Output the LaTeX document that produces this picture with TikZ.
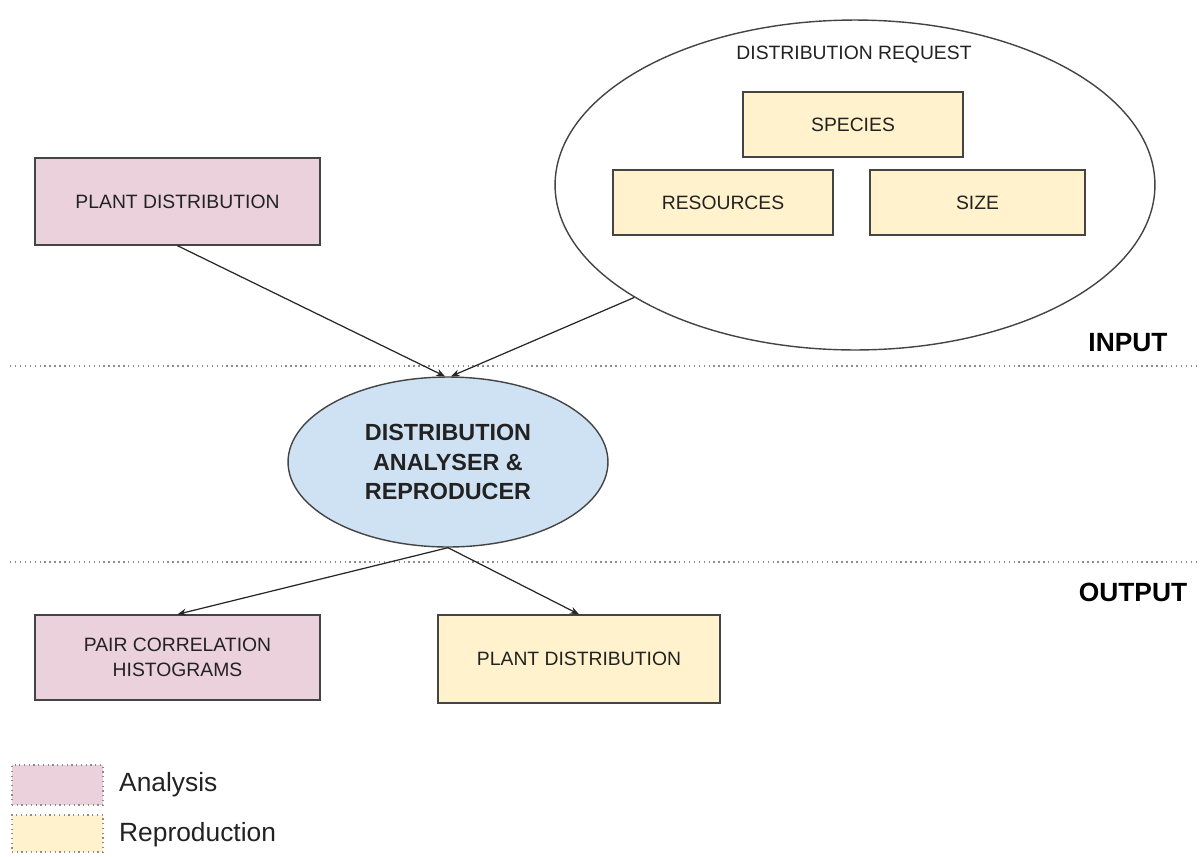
\documentclass[tikz,border=0pt]{standalone}
\usepackage{fontspec}
\setmainfont{Liberation Sans}
\usetikzlibrary{shapes.geometric,arrows.meta}

\definecolor{anapink}{HTML}{EAD1DC}
\definecolor{repyellow}{HTML}{FFF2CC}
\definecolor{procblue}{HTML}{CFE2F3}
\definecolor{edgegray}{HTML}{444444}
\definecolor{textgray}{HTML}{222222}

\tikzset{
  box/.style={draw=edgegray, line width=0.8pt, rectangle, align=center,
    text=textgray, font=\fontsize{11}{14}\selectfont, inner sep=2pt},
  anabox/.style={box, fill=anapink},
  repbox/.style={box, fill=repyellow},
  flow/.style={-{Stealth[length=5pt,width=4pt]}, line width=0.7pt, draw=black!85},
  divider/.style={draw=black!45, line width=0.8pt, dotted},
  stagelabel/.style={font=\bfseries\fontsize{15}{18}\selectfont},
  keybox/.style={draw=black!45, line width=0.7pt, dotted, rectangle},
  keytext/.style={anchor=west, font=\fontsize{15}{18}\selectfont, text=textgray}
}

\begin{document}
\begin{tikzpicture}[x=0.02cm, y=-0.02cm]
\useasboundingbox (0,0) rectangle (1200,856);

% stage dividers
\draw[divider] (10,366) -- (1200,366);
\draw[divider] (10,562) -- (1200,562);
\node[stagelabel] (inlab) at (1128,343) {INPUT};
\node[stagelabel] (outlab) at (1133,592) {OUTPUT};

% inputs
\node[anabox, minimum width=5.7cm, minimum height=1.74cm] (plantin) at (177.5,201.5) {PLANT DISTRIBUTION};

\node[draw=edgegray, line width=0.8pt, ellipse, fill=white,
      minimum width=12cm, minimum height=6.6cm] (request) at (855,185) {};
\node[font=\fontsize{11}{14}\selectfont, text=textgray] (reqlab) at (854,55) {DISTRIBUTION REQUEST};
\node[repbox, minimum width=4.4cm, minimum height=1.3cm] (species) at (853,124.5) {SPECIES};
\node[repbox, minimum width=4.4cm, minimum height=1.3cm] (resources) at (723,202.5) {RESOURCES};
\node[repbox, minimum width=4.3cm, minimum height=1.3cm] (size) at (977.5,202.5) {SIZE};

% processor
\node[draw=edgegray, line width=0.8pt, ellipse, fill=procblue, align=center,
      minimum width=6.4cm, minimum height=3.4cm, inner sep=0pt,
      font=\bfseries\fontsize{13.3}{17}\selectfont, text=textgray]
      (analyser) at (448,462) {DISTRIBUTION\\ANALYSER \&\\REPRODUCER};

% outputs
\node[anabox, minimum width=5.7cm, minimum height=1.7cm] (pairs) at (177.5,657.5) {PAIR CORRELATION\\HISTOGRAMS};
\node[repbox, minimum width=5.64cm, minimum height=1.76cm] (plantout) at (579,659) {PLANT DISTRIBUTION};

% connectors
\draw[flow] (plantin.south) -- (analyser.92);
\draw[flow] (request.207.8) -- (analyser.88);
\draw[flow] (analyser.south) -- (pairs.north);
\draw[flow] (analyser.south) -- (plantout.north);

% key
\node[keybox, fill=anapink, minimum width=1.82cm, minimum height=0.8cm] (keyana) at (57.5,785) {};
\node[keybox, fill=repyellow, minimum width=1.82cm, minimum height=0.74cm] (keyrep) at (57.5,833.5) {};
\node[keytext] (keyanatxt) at (113,785) {Analysis};
\node[keytext] (keyreptxt) at (113,835) {Reproduction};
\end{tikzpicture}
\end{document}
